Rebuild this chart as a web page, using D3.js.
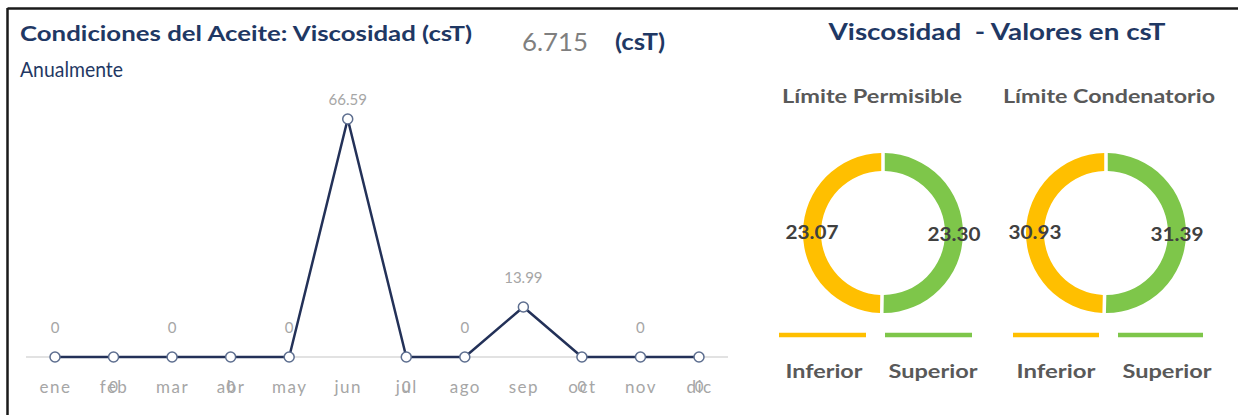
<!DOCTYPE html>
<html>
<head>
<meta charset="utf-8">
<script src="https://cdn.jsdelivr.net/npm/d3@7"></script>
<style>
  html, body { margin: 0; padding: 0; background: #ffffff; }
  svg { display: block; }
  text { font-family: Lato, "Open Sans", sans-serif; }
</style>
</head>
<body>
<svg id="chart" width="1238" height="415"></svg>
<script>
// ---- Data -------------------------------------------------------------
const months = ["ene", "feb", "mar", "abr", "may", "jun", "jul", "ago", "sep", "oct", "nov", "dic"];
const viscosity = [0, 0, 0, 0, 0, 66.59, 0, 0, 13.99, 0, 0, 0];
const labelPlacement = ["above", "below", "above", "below", "above", "above", "below", "above", "above", "below", "above", "below"];
const currentValue = 6.715;

const limitNames = ["Límite Permisible", "Límite Condenatorio"];
const inferiorLimits = [23.07, 30.93];
const superiorLimits = [23.30, 31.39];
const legendNames = ["Inferior", "Superior"];

// ---- Styling ----------------------------------------------------------
const navy = "#1f3864";
const lineColor = "#233158";
const darkGray = "#595959";
const orange = "#ffbf00";
const green = "#7ec64a";

const svg = d3.select("#chart");

// frame lines (top and left)
svg.append("line").attr("x1", 7.5).attr("x2", 1238).attr("y1", 8.5).attr("y2", 8.5)
  .attr("stroke", "#1a1a1a").attr("stroke-width", 2.5);
svg.append("line").attr("x1", 7.5).attr("x2", 7.5).attr("y1", 8).attr("y2", 415)
  .attr("stroke", "#1a1a1a").attr("stroke-width", 2.5);

// helper: text fitted to a given width
function label(x, y, str, opts) {
  const t = svg.append("text")
    .attr("x", x).attr("y", y)
    .attr("font-size", opts.size)
    .attr("font-weight", opts.weight || "normal")
    .attr("fill", opts.fill)
    .attr("text-anchor", opts.anchor || "start")
    .style("white-space", "pre")
    .text(str);
  if (opts.width) t.attr("textLength", opts.width).attr("lengthAdjust", "spacingAndGlyphs");
  return t;
}

// ---- Left panel: monthly line chart ------------------------------------
label(20, 41, "Condiciones del Aceite: Viscosidad (csT)", { size: 21, weight: "bold", fill: navy, width: 452 });
label(20, 77, "Anualmente", { size: 21, fill: navy, width: 103 });
label(522, 51, d3.format(".3f")(currentValue), { size: 25, fill: "#7f7f7f", width: 66 });
label(615, 50, "(csT)", { size: 22, weight: "bold", fill: navy, width: 50 });

const x = d3.scalePoint().domain(months).range([55, 699]);
const y = d3.scaleLinear().domain([0, d3.max(viscosity)]).range([357, 119]);

// baseline axis
const xAxis = d3.axisBottom(x).tickSize(0).tickPadding(0);
const axisG = svg.append("g").attr("transform", `translate(0,${y(0)})`).call(xAxis);
axisG.select(".domain").remove();
axisG.append("line").attr("x1", 26).attr("x2", 728).attr("y1", 0).attr("y2", 0)
  .attr("stroke", "#d9d9d9").attr("stroke-width", 1.5);
axisG.selectAll(".tick text")
  .attr("y", 36)
  .attr("dy", 0)
  .attr("fill", "#a6a6a6")
  .attr("font-size", 17)
  .attr("letter-spacing", 1.5)
  .attr("font-family", "Lato, sans-serif");

const pts = months.map((m, i) => ({ m, v: viscosity[i], place: labelPlacement[i] }));

svg.append("path")
  .datum(pts)
  .attr("fill", "none")
  .attr("stroke", lineColor)
  .attr("stroke-width", 2.5)
  .attr("stroke-linejoin", "round")
  .attr("d", d3.line().x(d => x(d.m)).y(d => y(d.v)));

svg.selectAll("circle.pt")
  .data(pts)
  .join("circle")
  .attr("class", "pt")
  .attr("cx", d => x(d.m))
  .attr("cy", d => y(d.v))
  .attr("r", 5)
  .attr("fill", "#ffffff")
  .attr("stroke", "#5d6e8f")
  .attr("stroke-width", 1.5);

// value labels; those above are kept inside the plot's top edge
svg.selectAll("text.val")
  .data(pts)
  .join("text")
  .attr("class", "val")
  .attr("x", d => x(d.m))
  .attr("y", d => d.place === "above" ? Math.max(y(d.v) - 24, 105) : y(d.v) + 35)
  .attr("text-anchor", "middle")
  .attr("font-size", 15)
  .attr("fill", "#a6a6a6")
  .text(d => d.v === 0 ? "0" : d3.format(".2f")(d.v));

// ---- Right panel: limit donuts -----------------------------------------
label(997, 40, "Viscosidad  - Valores en csT", { size: 22, weight: "bold", fill: navy, anchor: "middle", width: 337 });

const centers = [883, 1106];
const titleCenters = [872, 1109];
const titleWidths = [180, 212];
const cy = 233;
const outerR = 80, innerR = 62;

const pie = d3.pie().sort(null).startAngle(0).endAngle(2 * Math.PI).padAngle(0.035);
const arc = d3.arc().innerRadius(innerR).outerRadius(outerR);
const labelArc = d3.arc().innerRadius(71).outerRadius(71);

limitNames.forEach((name, i) => {
  label(titleCenters[i], 103, name, { size: 18, weight: "bold", fill: darkGray, anchor: "middle", width: titleWidths[i] });

  const slices = [
    { key: "Superior", value: superiorLimits[i], color: green },
    { key: "Inferior", value: inferiorLimits[i], color: orange }
  ];
  const g = svg.append("g").attr("transform", `translate(${centers[i]},${cy})`);
  const arcs = pie.value(d => d.value)(slices);
  g.selectAll("path")
    .data(arcs)
    .join("path")
    .attr("d", arc)
    .attr("fill", d => d.data.color);
  g.selectAll("text")
    .data(arcs)
    .join("text")
    .attr("x", d => labelArc.centroid(d)[0])
    .attr("y", d => labelArc.centroid(d)[1] + 7)
    .attr("text-anchor", "middle")
    .attr("font-size", 19)
    .attr("font-weight", "bold")
    .attr("fill", "#404040")
    .attr("textLength", 53)
    .attr("lengthAdjust", "spacingAndGlyphs")
    .text(d => d3.format(".2f")(d.data.value));
});

// legends below each donut
const legendSegs = [
  { x1: 779, x2: 866, color: orange, text: legendNames[0], tx: 824, tw: 77 },
  { x1: 885, x2: 972, color: green, text: legendNames[1], tx: 933, tw: 89 },
  { x1: 1013, x2: 1099, color: orange, text: legendNames[0], tx: 1056, tw: 79 },
  { x1: 1118, x2: 1203, color: green, text: legendNames[1], tx: 1167, tw: 89 }
];
legendSegs.forEach(s => {
  svg.append("line").attr("x1", s.x1).attr("x2", s.x2).attr("y1", 335).attr("y2", 335)
    .attr("stroke", s.color).attr("stroke-width", 4.5);
  label(s.tx, 378, s.text, { size: 19, weight: "bold", fill: darkGray, anchor: "middle", width: s.tw });
});
</script>
</body>
</html>
